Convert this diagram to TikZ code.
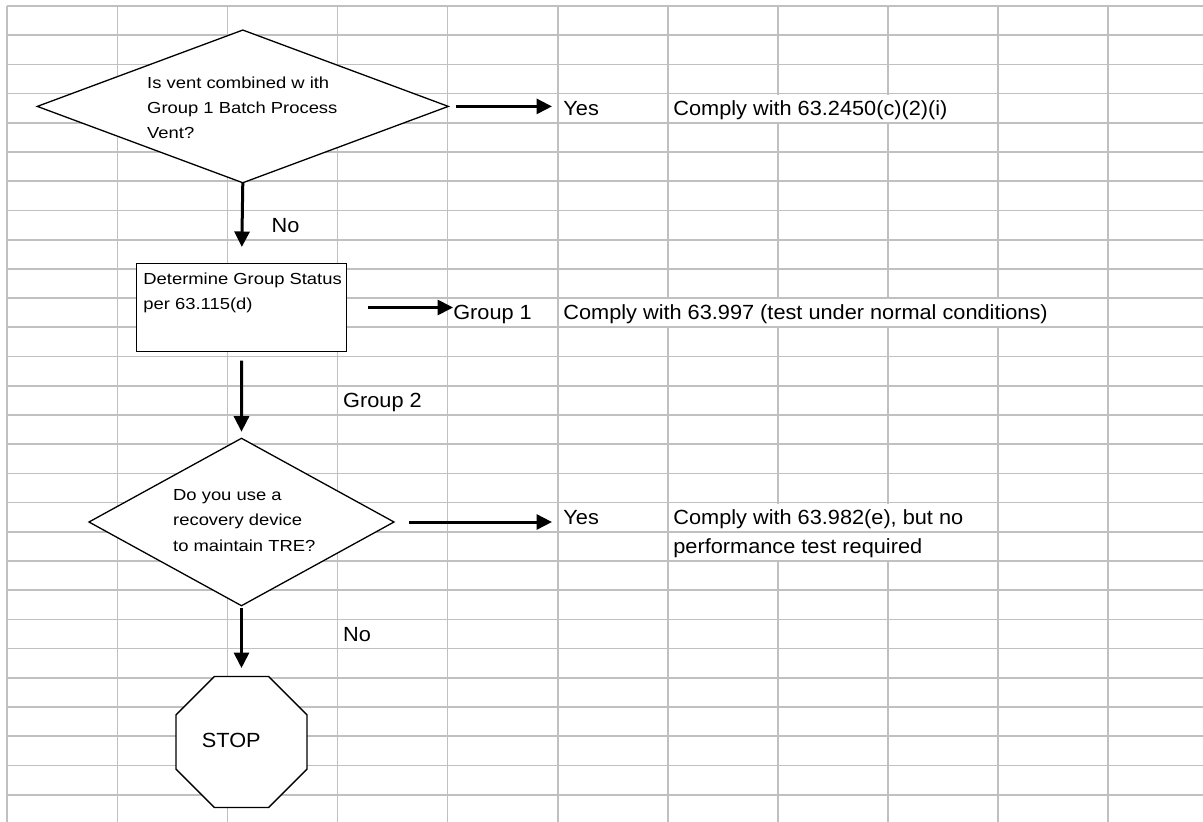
\documentclass[tikz,border=0pt]{standalone}
\usepackage{fontspec}
\setmainfont{Liberation Sans}
\newfontfamily\shapefont[FakeStretch=1.15]{Liberation Sans}
\newfontfamily\labelfont[FakeStretch=1.06]{Liberation Sans}
\usetikzlibrary{shapes.geometric,arrows.meta}
\definecolor{gridgray}{HTML}{C0C0C0}
\begin{document}
\begin{tikzpicture}[x=1pt,y=-1pt,
  gridline/.style={draw=gridgray,line width=1.7pt},
  outline/.style={draw=black,line width=1.3pt,fill=white,inner sep=0pt,outer sep=0pt},
  flowarrow/.style={line width=3pt,-{Triangle[length=15.5pt,width=15pt]}},
  shapetext/.style={inner sep=0pt,anchor=base west},
  celltext/.style={inner sep=0pt,anchor=base west,font=\labelfont\fontsize{20.5}{29.2}\selectfont},
]
\fill[white] (0,0) rectangle (1203,822);
\useasboundingbox (0,0) rectangle (1203,822);

% spreadsheet grid
\foreach \k in {0,...,27} \draw[gridline] (7.3,{6+29.21*\k}) -- (1203,{6+29.21*\k});
\foreach \j in {0,...,10} \draw[gridline] ({7.3+110.07*\j},6) -- ({7.3+110.07*\j},822);
% cells whose text overflows hide the vertical grid lines
\fill[white] (770,94.7) rectangle (895,121.7);
\fill[white] (660,299.2) rectangle (1005,326.2);
\fill[white] (770,503.7) rectangle (895,530.7);
\fill[white] (770,532.9) rectangle (895,559.9);

% shapes
\node[outline,diamond,minimum width=411,minimum height=152.7] (d1) at (242.8,106.4) {};
\node[outline,rectangle,minimum width=210.5,minimum height=88.4] (box) at (241.55,307.5) {};
\node[outline,diamond,minimum width=305,minimum height=167.4] (d2) at (241.5,522) {};
\node[outline,regular polygon,regular polygon sides=8,minimum size=141.8] (stop) at (241.5,742) {};

% texts in shapes
\node[shapetext,font=\shapefont\fontsize{16}{24.8}\selectfont] (d1text) at (147,88.7)
  {\begin{tabular}[t]{@{}l@{}}Is vent combined w ith\\Group 1 Batch Process\\Vent?\end{tabular}};
\node[shapetext,font=\shapefont\fontsize{16}{25.5}\selectfont] (boxtext) at (143.2,284.3)
  {\begin{tabular}[t]{@{}l@{}}Determine Group Status\\per 63.115(d)\end{tabular}};
\node[shapetext,font=\shapefont\fontsize{16}{25.8}\selectfont] (d2text) at (173,500)
  {\begin{tabular}[t]{@{}l@{}}Do you use a\\recovery device\\to maintain TRE?\end{tabular}};
\node[celltext] (stoptxt) at (201.7,747.3) {STOP};

% cell labels
\node[celltext] (yes1) at (563.2,115.3) {Yes};
\node[celltext] (c1) at (673.2,115.3) {Comply with 63.2450(c)(2)(i)};
\node[celltext] (no1) at (271.4,232.2) {No};
\node[celltext] (g1) at (453.1,319.8) {Group 1};
\node[celltext] (c2) at (563.2,319.8) {Comply with 63.997 (test under normal conditions)};
\node[celltext] (g2) at (343,407.4) {Group 2};
\node[celltext] (yes2) at (563.2,524.3) {Yes};
\node[celltext] (c3) at (673.2,524.3)
  {\begin{tabular}[t]{@{}l@{}}Comply with 63.982(e), but no\\performance test required\end{tabular}};
\node[celltext] (no2) at (343,641) {No};

% connectors
\draw[flowarrow,shorten <=7.7pt,shorten >=11.2pt] (d1.east) -- (d1.east -| yes1.west);
\draw[flowarrow,shorten >=16.3pt] (d1.south) -- (box.north);
\draw[flowarrow,shorten <=21.5pt,shorten >=0pt] (box.east) -- (box.east -| g1.west);
\draw[flowarrow,shorten <=9pt,shorten >=6.6pt] (box.south) -- (d2.north);
\draw[flowarrow,shorten <=15.2pt,shorten >=11.2pt] (d2.east) -- (d2.east -| yes2.west);
\draw[flowarrow,shorten <=2.6pt,shorten >=8.4pt] (d2.south) -- (stop.north);
\end{tikzpicture}
\end{document}
